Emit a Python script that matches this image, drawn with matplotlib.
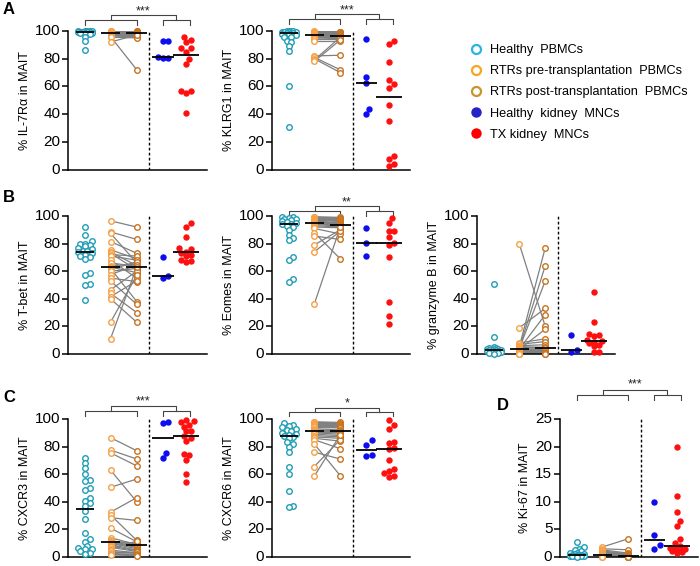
import numpy as np
import matplotlib
matplotlib.use("Agg")
import matplotlib.pyplot as plt
from matplotlib.lines import Line2D

plt.rcParams["font.family"] = ["Liberation Sans", "DejaVu Sans"]

FIG_W, FIG_H, DPI = 700, 566, 100

# ── data ────────────────────────────────────────────────────────────────
IL7R_HEALTHY = [100, 100, 99.9, 99.8, 99.7, 99.6, 99.5, 99.5, 99.4, 99.3, 99.2,
                99.0, 99.0, 98.8, 98.5, 98.2, 97.5, 96.0, 92.5, 86.5]
IL7R_PRE = [100, 99.8, 99.6, 99.5, 99.4, 99.3, 99.2, 99.0, 99.0, 98.8, 98.6,
            98.5, 98.3, 98.0, 97.8, 97.5, 97.0, 96.5, 96.0, 95.5, 92.0]
IL7R_POST = [99.8, 99.7, 99.5, 99.6, 99.4, 99.2, 99.0, 98.8, 98.5, 98.7, 98.2,
             98.0, 97.5, 97.0, 96.5, 96.8, 96.0, 95.5, 72.0, 95.0, 97.2]
IL7R_HK = [93.0, 92.5, 80.7, 80.7, 81.0]
IL7R_TX = [95.5, 93.5, 92.0, 88.0, 88.0, 85.0, 80.0, 76.5, 57.0, 57.0, 55.5, 40.5]

KLRG1_HEALTHY = [100, 100, 100, 99.8, 99.6, 99.4, 99.2, 99.0, 98.8, 98.6, 98.4,
                 98.0, 97.5, 97.0, 96.0, 95.5, 93.0, 92.0, 89.0, 85.5, 60.0, 31.0]
KLRG1_PRE = [99.8, 99.6, 99.4, 99.2, 99.0, 98.8, 98.5, 98.2, 98.0, 97.5, 97.2, 97.0,
             96.5, 96.0, 95.5, 95.0, 94.0, 93.0, 82.0, 81.0, 80.0, 79.0, 78.0]
KLRG1_POST = [99.5, 99.2, 99.0, 98.8, 98.5, 98.2, 98.0, 97.5, 97.0, 96.8, 96.5, 96.2,
              96.0, 95.5, 95.0, 94.5, 94.0, 93.0, 82.5, 72.0, 70.0, 95.5, 93.5]
KLRG1_HK = [94.0, 66.5, 62.5, 43.5, 40.0]
KLRG1_TX = [92.7, 90.3, 77.7, 64.8, 61.7, 58.7, 46.6, 35.2, 9.5, 7.5, 4.0, 2.4]

TBET_HEALTHY = [92, 86, 82, 80, 80, 79, 78, 77, 76, 75, 74.5, 74, 73, 72, 71, 70,
                69, 59, 57, 51, 50, 39]
TBET_PRE = [96.5, 88.5, 87.5, 81.5, 75.5, 74, 73, 72, 71, 68, 66, 64, 63, 62, 61,
            60, 57.5, 55, 53, 46.5, 44, 41.5, 40, 23, 11]
TBET_POST = [92, 83, 66, 73, 69, 64, 61, 71, 68, 55, 63.5, 65, 59, 38, 67, 62,
             64.5, 52.5, 36, 60, 30, 53, 23, 57, 63]
TBET_HK = [70, 56.5, 55]
TBET_TX = [95, 92, 85, 77, 76, 74, 73.5, 72, 71, 68, 67.5, 66.5]

EOMES_HEALTHY = [99.5, 99, 98.5, 98, 97.5, 97, 96.5, 96, 95, 94.5, 94, 93, 92, 90,
                 86, 84, 82.5, 70, 68, 54, 52]
EOMES_PRE = [99.5, 99, 98.5, 98, 97.8, 97.5, 97, 96.5, 96, 95.5, 95, 94.5, 94, 93,
             92, 91, 88, 85.5, 79, 74, 36]
EOMES_POST = [99, 98.5, 98, 97.5, 97, 96.5, 96, 95, 94.5, 94, 93.5, 93, 92.5, 92,
              91.5, 87, 69, 83, 90, 89, 92]
EOMES_HK = [91.5, 80.5, 71]
EOMES_TX = [98.8, 95.2, 89, 89, 85, 80.7, 79, 70, 38, 27.5, 22]

GZMB_HEALTHY = [51, 12, 5, 4.5, 4, 3.8, 3.5, 3.3, 3.2, 3.1, 3, 2.8, 2.5, 2.2, 2,
                1.8, 1.5, 1.2, 1, 0.6, 0.3]
GZMB_PRE = [80, 19, 8, 7, 6, 5.5, 5, 4.5, 4, 3.8, 3.6, 3.5, 3.4, 3.2, 3, 2.5, 2,
            1.5, 1.2, 1, 0.8, 0.5, 0.3, 0.2, 0.1]
GZMB_POST = [20, 33, 11, 9, 6.7, 4.5, 77, 5, 64, 3.5, 53, 28.5, 18, 2.5, 4, 3, 2,
             4.3, 1.5, 1, 0.5, 1, 0.3, 0.5, 0.2]
GZMB_HK = [13.7, 2.7, 1.2]
GZMB_TX = [45, 23, 14.5, 13.5, 13, 10, 9.5, 9, 8, 6.5, 5.5, 1.2, 1.2]

CXCR3_HEALTHY = [71.8, 68, 64.6, 59.8, 56.1, 54.9, 50, 48.2, 42.9, 40.5, 39.3, 36.9,
                 33.3, 27.2, 17.6, 12.8, 11.1, 8, 6.7, 6, 5.5, 4.3, 3.1, 2.5]
CXCR3_PRE = [86.5, 77.5, 75.5, 63, 50.5, 32.5, 30.5, 28.5, 21, 14, 12, 11.5, 11,
             10.5, 10, 9, 8, 7, 6, 5, 4, 3, 2.5, 2, 1.5]
CXCR3_POST = [77, 71, 66, 40, 56.5, 43, 12, 26.5, 11, 9, 8.5, 10, 8, 7, 6, 5, 4.5,
              4, 11.5, 3, 2.5, 3.5, 2, 1.5, 1]
CXCR3_HK = [98, 97, 75.5, 72]
CXCR3_TX = [99.5, 98.8, 97.8, 95.9, 94.5, 91.6, 91, 87.5, 86, 84, 74.7, 74.2, 70.6,
            60, 54.2]

CXCR6_HEALTHY = [97, 96, 95, 94, 93, 92, 91, 90, 89, 88.5, 88, 87, 86, 83, 82, 80,
                 76, 65, 60.5, 47.5, 37, 36]
CXCR6_PRE = [98, 97.5, 97, 96.5, 96, 95.5, 95, 94.5, 94, 93, 92, 91, 90.5, 90, 89,
             88, 87, 86, 85, 82, 76, 65.5, 58.5]
CXCR6_POST = [97.5, 97, 96.5, 96, 95.5, 95, 94.5, 94, 93.5, 92, 91.5, 91, 90.5, 89,
              88, 87, 86, 84, 78.5, 59, 71, 85, 88.5]
CXCR6_HK = [84.5, 81.5, 74, 73.5]
CXCR6_TX = [99, 95.5, 92.5, 83, 82.5, 79, 78.5, 70.5, 63.5, 62.5, 61, 59, 58]

KI67_HEALTHY = [2.7, 1.9, 1.5, 1.2, 1, 0.8, 0.7, 0.6, 0.5, 0.4, 0.35, 0.3, 0.3,
                0.25, 0.2, 0.2, 0.15, 0.1, 0.1, 0.05]
KI67_PRE = [1.8, 1.5, 1.3, 1.1, 1.0, 0.9, 0.8, 0.7, 0.6, 0.55, 0.5, 0.5, 0.45, 0.4,
            0.35, 0.3, 0.3, 0.25, 0.2, 0.2, 0.15, 0.1, 0.1, 0.05, 0.05]
KI67_POST = [3.3, 1.3, 0.7, 0.5, 0.6, 0.4, 0.5, 0.3, 0.35, 0.2, 0.3, 0.25, 0.2, 0.3,
             0.2, 0.15, 0.1, 0.15, 0.1, 0.1, 0.05, 0.05, 0.05, 0.02, 0.02]
KI67_HK = [10, 3.9, 2.1, 1.4]
KI67_TX = [19.9, 11, 8.2, 6.6, 5.7, 3.3, 2.6, 2.0, 1.7, 1.6, 1.4, 1.2, 1.0, 0.9, 0.8]

LEGEND_LABELS = ["Healthy  PBMCs", "RTRs pre-transplantation  PBMCs",
                 "RTRs post-transplantation  PBMCs", "Healthy  kidney  MNCs",
                 "TX kidney  MNCs"]

# ── styling ────────────────────────────────────────────────────────────
C_HEALTHY = "#1f9db6"
C_PRE = "#f5a044"
C_POST = "#c8731f"
C_HK = "#0d0df0"
C_TX = "#ff1010"
LEG_COLORS = ["#2ab4e6", "#f6a623", "#c4962c", "#2323c8", "#ff0000"]
PAIR_LINE = "#808080"
BRACKET = "#444444"

X_HEALTHY, X_PRE, X_POST, X_HK, X_TX = 0.68, 1.70, 2.75, 3.80, 4.72
X_DASH, X_MAX = 3.25, 5.56
MS = 4.0


def px_rect(left, top, right, bottom):
    return [left / FIG_W, 1 - bottom / FIG_H, (right - left) / FIG_W,
            (bottom - top) / FIG_H]


def swarm_x(ax, x0, ys, diam=4.6, max_half=9.0):
    """Deterministic beeswarm in pixel space, capped in width (points may overlap)."""
    ys = np.asarray(ys, float)
    pts = ax.transData.transform(np.column_stack([np.full(len(ys), x0), ys]))
    order = np.argsort(pts[:, 1])
    placed = []
    xs = np.empty(len(ys))
    n_steps = int(max_half / (diam * 0.5))
    steps = [0] + [s * j for j in range(1, n_steps + 1) for s in (1, -1)]
    for i in order:
        px0, py = pts[i]
        best, best_d = px0, -1.0
        for st in steps:
            cx = px0 + st * diam * 0.5
            d = min([np.hypot(cx - qx, py - qy) for qx, qy in placed] or [99.0])
            if d >= diam:
                best = cx
                break
            if d > best_d + 0.3:
                best, best_d = cx, d
        placed.append((best, py))
        xs[i] = best
    back = ax.transData.inverted().transform(np.column_stack([xs, pts[:, 1]]))
    return back[:, 0]


def draw_panel(ax, healthy, pre, post, hk, tx, ymax, ystep, ylabel):
    ax.set_xlim(0, X_MAX)
    ax.set_ylim(0, ymax)
    ax.set_yticks(np.arange(0, ymax + 0.01, ystep))
    ax.set_xticks([])
    for side in ("top", "right"):
        ax.spines[side].set_visible(False)
    for side in ("left", "bottom"):
        ax.spines[side].set_linewidth(1.1)
    ax.tick_params(axis="y", length=4, width=1.1, labelsize=11, pad=1.5)
    for t in ax.yaxis.get_major_ticks():
        t.label1.set_va("center")
    ax.set_ylabel(ylabel, fontsize=9, labelpad=3)

    ax.axvline(X_DASH, color="black", lw=1.0, ls=(0, (2, 1.6)), zorder=1)

    for a, b in zip(pre, post):
        ax.plot([X_PRE, X_POST], [a, b], color=PAIR_LINE, lw=0.9, zorder=2)

    open_kw = dict(ls="none", marker="o", ms=MS, mfc="white", mew=1.0,
                   zorder=3, clip_on=False)
    fill_kw = dict(ls="none", marker="o", ms=MS + 0.6, mew=0, zorder=3,
                   clip_on=False)
    ax.plot(swarm_x(ax, X_HEALTHY, healthy), healthy, mec=C_HEALTHY, **open_kw)
    ax.plot(np.full(len(pre), X_PRE), pre, mec=C_PRE, **open_kw)
    ax.plot(np.full(len(post), X_POST), post, mec=C_POST, **open_kw)
    ax.plot(swarm_x(ax, X_HK, hk, 5.4, 11.0), hk, mfc=C_HK, **fill_kw)
    ax.plot(swarm_x(ax, X_TX, tx, 5.0, 9.0), tx, mfc=C_TX, **fill_kw)

    for x, vals, w in ((X_HEALTHY, healthy, 0.72), (X_PRE, pre, 0.75),
                       (X_POST, post, 0.85), (X_HK, hk, 0.85), (X_TX, tx, 1.05)):
        ax.hlines(np.median(vals), x - w / 2, x + w / 2, color="black",
                  lw=1.3, zorder=5)


def add_brackets(ax, tip, bar, top, star_y, stars):
    kw = dict(color=BRACKET, lw=0.8, clip_on=False)
    ax.plot([X_HEALTHY, X_HEALTHY, X_POST, X_POST], [tip, bar, bar, tip], **kw)
    ax.plot([3.78, 3.78, 4.88, 4.88], [tip, bar, bar, tip], **kw)
    ax.plot([1.72, 1.72, 4.33, 4.33], [bar, top, top, bar], **kw)
    ax.text(3.02, star_y, stars, ha="center", va="center", fontsize=9,
            color="#222222")


fig = plt.figure(figsize=(FIG_W / DPI, FIG_H / DPI), dpi=DPI)

ax = fig.add_axes(px_rect(68, 31, 207, 169.5))
draw_panel(ax, IL7R_HEALTHY, IL7R_PRE, IL7R_POST, IL7R_HK, IL7R_TX, 100, 20,
           "% IL-7Rα in MAIT")
add_brackets(ax, 104.0, 108.0, 111.2, 114.0, "***")

ax = fig.add_axes(px_rect(272, 31, 410, 169.5))
draw_panel(ax, KLRG1_HEALTHY, KLRG1_PRE, KLRG1_POST, KLRG1_HK, KLRG1_TX, 100, 20,
           "% KLRG1 in MAIT")
add_brackets(ax, 105.0, 108.8, 112.0, 115.0, "***")

ax = fig.add_axes(px_rect(68, 216, 207, 354))
draw_panel(ax, TBET_HEALTHY, TBET_PRE, TBET_POST, TBET_HK, TBET_TX, 100, 20,
           "% T-bet in MAIT")

ax = fig.add_axes(px_rect(272, 216, 410, 354))
draw_panel(ax, EOMES_HEALTHY, EOMES_PRE, EOMES_POST, EOMES_HK, EOMES_TX, 100, 20,
           "% Eomes in MAIT")
add_brackets(ax, 100.2, 103.8, 107.2, 110.0, "**")

ax = fig.add_axes(px_rect(477, 216, 615, 354))
draw_panel(ax, GZMB_HEALTHY, GZMB_PRE, GZMB_POST, GZMB_HK, GZMB_TX, 100, 20,
           "% granzyme B in MAIT")

ax = fig.add_axes(px_rect(68, 419, 207, 557))
draw_panel(ax, CXCR3_HEALTHY, CXCR3_PRE, CXCR3_POST, CXCR3_HK, CXCR3_TX, 100, 20,
           "% CXCR3 in MAIT")
add_brackets(ax, 101.9, 105.6, 109.2, 113.0, "***")

ax = fig.add_axes(px_rect(272, 419, 410, 557))
draw_panel(ax, CXCR6_HEALTHY, CXCR6_PRE, CXCR6_POST, CXCR6_HK, CXCR6_TX, 100, 20,
           "% CXCR6 in MAIT")
add_brackets(ax, 102.2, 104.8, 108.0, 111.6, "*")

ax = fig.add_axes(px_rect(560, 419, 698, 557))
draw_panel(ax, KI67_HEALTHY, KI67_PRE, KI67_POST, KI67_HK, KI67_TX, 25, 5,
           "% Ki-67 in MAIT")
add_brackets(ax, 28.4, 29.3, 30.2, 31.2, "***")

# legend
handles = []
for i, c in enumerate(LEG_COLORS):
    if i < 3:
        handles.append(Line2D([], [], ls="none", marker="o", ms=6.5, mfc="white",
                              mec=c, mew=1.6))
    else:
        handles.append(Line2D([], [], ls="none", marker="o", ms=7.5, mfc=c, mew=0))
fig.legend(handles, LEGEND_LABELS, loc="upper left",
           bbox_to_anchor=(470 / FIG_W, 1 - 44 / FIG_H), frameon=False,
           fontsize=9.2, handlelength=1.0, handletextpad=0.6, labelspacing=0.72,
           borderpad=0, borderaxespad=0)

for lab, x, y in (("A", 3, 10), ("B", 3, 197), ("C", 3, 398), ("D", 497, 405)):
    fig.text(x / FIG_W, 1 - y / FIG_H, lab, fontsize=12, fontweight="bold",
             ha="left", va="center")

fig.savefig("out.png", dpi=DPI)
